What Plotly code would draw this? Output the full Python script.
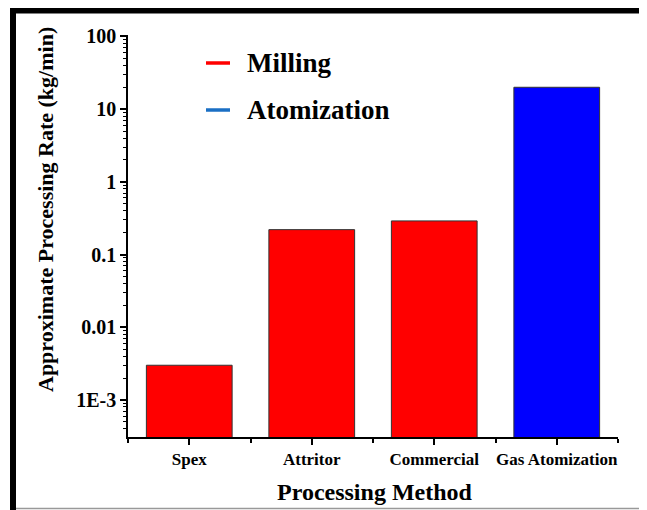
import plotly.graph_objects as go

# data
methods = ["Spex", "Attritor", "Commercial", "Gas Atomization"]
rates = [0.003, 0.22, 0.29, 20]
groups = ["Milling", "Milling", "Milling", "Atomization"]

legend_names = ["Milling", "Atomization"]
bar_colors = {"Milling": "#ff0000", "Atomization": "#0000ff"}
legend_colors = {"Milling": "#ff0000", "Atomization": "#1a6fc4"}

ytick_vals = [1e-3, 0.01, 0.1, 1, 10, 100]
ytick_text = ["1E-3", "0.01", "0.1", "1", "10", "100"]

# the page body has an 8px margin, so the figure is drawn 8px smaller
OFF = 8
W, H = 647 - OFF, 510 - OFF
ML, MR, MT, MB = 128 - OFF, 29, 35 - OFF, 73
PW, PH = W - ML - MR, H - MT - MB


def px_x(px):
    # window pixel -> paper coordinate
    return (px - OFF - ML) / PW


def px_y(py):
    return (H - MB - (py - OFF)) / PH


FONT = "Liberation Serif"

fig = go.Figure()
fig.add_trace(go.Bar(
    x=list(range(len(methods))),
    y=rates,
    width=0.7,
    marker=dict(color=[bar_colors[g] for g in groups],
                line=dict(color="#333333", width=1)),
    showlegend=False,
))

# hand-drawn legend: short coloured dash + bold label
shapes = []
annotations = []
for i, name in enumerate(legend_names):
    yc = 63 + i * 47
    shapes.append(dict(type="line", xref="paper", yref="paper",
                       x0=px_x(206), x1=px_x(230), y0=px_y(yc), y1=px_y(yc),
                       line=dict(color=legend_colors[name], width=3.5)))
    annotations.append(dict(text="<b>%s</b>" % name, xref="paper", yref="paper",
                            x=px_x(245), y=px_y(yc), xanchor="left", yanchor="middle",
                            showarrow=False, font=dict(size=27, color="black", family=FONT)))

# axis titles
annotations.append(dict(text="<b>Approximate Processing Rate (kg/min)</b>", xref="paper", yref="paper",
                        x=px_x(46), y=px_y(210), xanchor="center", yanchor="middle", textangle=-90,
                        showarrow=False, font=dict(size=22, color="black", family=FONT)))
annotations.append(dict(text="<b>Processing Method</b>", xref="paper", yref="paper",
                        x=px_x(375), y=px_y(492), xanchor="center", yanchor="middle",
                        showarrow=False, font=dict(size=24, color="black", family=FONT)))

# page frame from the screenshot: thick black left/top edges, thin grey bottom
shapes.append(dict(type="rect", xref="paper", yref="paper", layer="above",
                   x0=px_x(10), x1=px_x(16), y0=px_y(510), y1=px_y(7),
                   fillcolor="black", line=dict(width=0)))
shapes.append(dict(type="rect", xref="paper", yref="paper", layer="above",
                   x0=px_x(10), x1=px_x(647), y0=px_y(13.5), y1=px_y(7),
                   fillcolor="black", line=dict(width=0)))
shapes.append(dict(type="line", xref="paper", yref="paper", layer="above",
                   x0=px_x(16), x1=px_x(647), y0=px_y(508.5), y1=px_y(508.5),
                   line=dict(color="#999999", width=1.5)))

fig.update_layout(
    width=W, height=H,
    margin=dict(l=ML, r=MR, t=MT, b=MB, autoexpand=False),
    paper_bgcolor="white", plot_bgcolor="white",
    font=dict(family=FONT, color="black"),
    shapes=shapes,
    annotations=annotations,
)

fig.update_xaxes(
    range=[-0.5, 3.5],
    automargin=False,
    tickvals=list(range(len(methods))),
    ticktext=["<b>%s</b>" % m for m in methods],
    tickfont=dict(size=17, family=FONT),
    ticks="outside", ticklen=6, tickwidth=1.5, tickcolor="black",
    minor=dict(tick0=0.5, dtick=1, ticks="outside", ticklen=4, tickwidth=1.5, tickcolor="black"),
    showline=True, linecolor="black", linewidth=1.5,
    showgrid=False, zeroline=False,
)

fig.update_yaxes(
    type="log",
    automargin=False,
    range=[-3.51, 2.02],
    tickvals=ytick_vals,
    ticktext=["<b>%s</b>" % t for t in ytick_text],
    tickfont=dict(size=20, family=FONT),
    ticks="outside", ticklen=6, tickwidth=1.5, tickcolor="black",
    minor=dict(dtick="D1", ticks="outside", ticklen=3, tickwidth=1, tickcolor="black"),
    showline=True, linecolor="black", linewidth=1.5,
    showgrid=False, zeroline=False,
)

fig.write_html("out.html")
